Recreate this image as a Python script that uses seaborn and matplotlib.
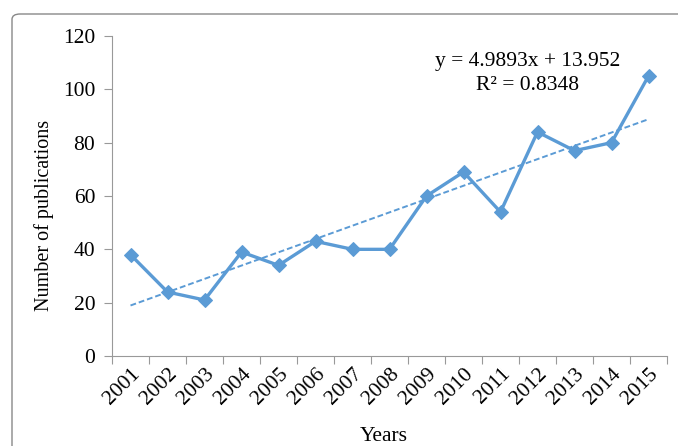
import matplotlib
matplotlib.use("Agg")
import matplotlib.pyplot as plt
import matplotlib.transforms as mtransforms
import seaborn as sns
import numpy as np
import pandas as pd
from matplotlib.patches import FancyBboxPatch

years = ["2001", "2002", "2003", "2004", "2005", "2006", "2007", "2008",
         "2009", "2010", "2011", "2012", "2013", "2014", "2015"]
publications = [38, 24, 21, 39, 34, 43, 40, 40, 60, 69, 54, 84, 77, 80, 105]
yticks = [0, 20, 40, 60, 80, 100, 120]
equation_line1 = "y = 4.9893x + 13.952"
equation_line2 = "R\u00b2 = 0.8348"

sns.set_theme(style="white")
plt.rcParams["font.family"] = ["Liberation Serif", "DejaVu Serif"]
plt.rcParams["text.color"] = "black"
plt.rcParams["axes.labelcolor"] = "black"

FS = 15.5
color = "#5B9BD5"
fig = plt.figure(figsize=(6.78, 4.46), dpi=100)
ax = fig.add_axes([112/678, 1-356/446, 555/678, 320/446])

df = pd.DataFrame({"pos": np.arange(len(years)), "val": publications})
sns.lineplot(data=df, x="pos", y="val", ax=ax, color=color, linewidth=2.4,
             marker="D", markersize=7, markeredgecolor=color)

# linear trendline
xs = np.arange(1, len(years) + 1)
slope, intercept = np.polyfit(xs, publications, 1)
ax.plot(df["pos"], slope * xs + intercept, linestyle=(0, (3, 1.5)), color=color, linewidth=1.4)

ax.text(0.748, 110.3, equation_line1, transform=ax.get_yaxis_transform(),
        ha="center", va="center", fontsize=FS)
ax.text(0.748, 101.6, equation_line2, transform=ax.get_yaxis_transform(),
        ha="center", va="center", fontsize=FS)

ax.set_xlim(-0.5, len(years) - 0.5)
ax.set_ylim(0, 120)
ax.set_yticks(yticks)
ax.set_yticklabels([str(t) for t in yticks], fontsize=FS)
ax.set_xticks(np.arange(len(years)))
ax.set_xticklabels(years, rotation=45, ha="right", rotation_mode="anchor", fontsize=FS)
offset = mtransforms.ScaledTranslation(-8/100, -6/100, fig.dpi_scale_trans)
for lab in ax.get_xticklabels():
    lab.set_transform(lab.get_transform() + offset)
ax.set_xticks(np.arange(len(years) + 1) - 0.5, minor=True)
ax.tick_params(axis="x", which="major", length=0, pad=6, labelcolor="black")
ax.tick_params(axis="x", which="minor", length=6, width=0.8, color="#999999", bottom=True)
ax.tick_params(axis="y", length=6, width=0.8, color="#999999", left=True, pad=6,
               labelcolor="black")

for s in ["top", "right"]:
    ax.spines[s].set_visible(False)
for s in ["left", "bottom"]:
    ax.spines[s].set_color("#999999")
    ax.spines[s].set_linewidth(0.8)

ax.set_xlabel("Years", fontsize=FS)
ax.set_ylabel("Number of publications", fontsize=14.5)
ax.xaxis.set_label_coords(0.49, -0.222)
ax.yaxis.set_label_coords(-0.105, 0.44)

border = FancyBboxPatch((12/678, -0.2), 1.2, 1-14/446 + 0.2,
                        boxstyle="round,pad=0,rounding_size=0.012",
                        transform=fig.transFigure, fill=False,
                        edgecolor="#888888", linewidth=1.0)
fig.patches.append(border)

fig.savefig("out.png", dpi=100)
